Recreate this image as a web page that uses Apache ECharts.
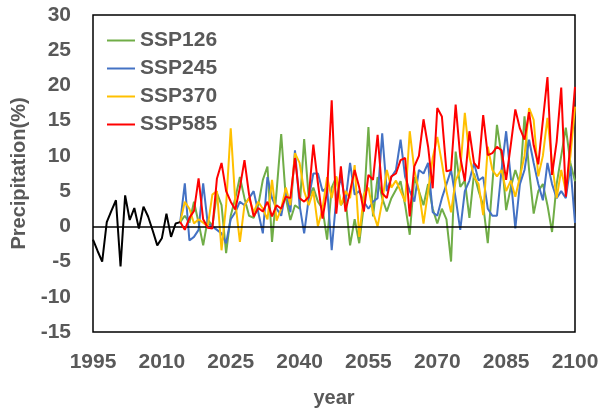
<!DOCTYPE html>
<html>
<head>
<meta charset="utf-8">
<script src="https://cdn.jsdelivr.net/npm/echarts@6/dist/echarts.min.js"></script>
<style>html,body{margin:0;padding:0;background:#fff}#c{width:615px;height:413px}</style>
</head>
<body>
<div id="c"></div>
<script>
var histStart = 1995;
var sspStart = 2014;
var hist = [-1.9,-3.5,-5.0,0.6,2.2,3.7,-5.7,4.4,0.9,2.6,-0.3,2.8,1.4,-0.6,-2.7,-1.7,1.8,-1.5,0.4,0.6];
var ssp126 = [
0.6,1.5,0.5,3.5,0.5,-2.7,1.0,0.0,4.7,3.0,
-3.8,1.5,4.0,7.0,4.0,1.5,1.2,3.0,6.6,8.5,
-2.2,5.0,13.1,4.0,0.9,3.0,2.5,12.4,4.0,5.5,
3.5,2.5,-1.9,5.5,7.0,3.0,4.0,-2.7,1.0,-2.4,
3.0,14.1,1.4,7.0,4.0,2.1,4.0,5.2,6.4,3.0,
-1.2,7.0,5.0,3.0,6.0,2.5,0.4,2.5,1.0,-5.0,
10.6,5.6,6.5,1.2,7.5,5.0,3.0,-2.4,6.0,14.4,
10.0,2.3,5.5,8.0,6.0,15.6,8.0,1.8,5.0,6.0,
3.0,-0.8,6.0,10.0,14.0,9.0,6.4];
var ssp245 = [
0.6,6.1,-2.0,-1.5,-0.5,6.1,0.4,0.0,-0.5,-1.0,
-2.4,1.0,2.0,3.5,3.0,4.0,5.0,2.0,-1.0,7.0,
4.0,2.5,1.5,5.0,2.0,10.8,3.0,-1.0,4.0,7.5,
7.5,5.0,5.5,-3.4,4.0,7.0,3.5,9.0,4.5,5.0,
3.5,2.5,3.5,4.0,13.2,5.0,7.0,8.0,12.3,7.0,
5.0,3.5,8.0,7.5,9.0,2.0,1.5,4.0,6.0,8.0,
4.0,-0.5,5.0,6.5,9.0,6.5,7.0,2.5,1.5,1.5,
8.0,13.5,7.0,-0.3,6.0,8.0,12.3,9.0,6.0,3.7,
9.0,6.0,4.0,5.0,4.0,8.5,0.5];
var ssp370 = [
0.6,3.5,2.5,0.4,1.0,0.5,0.0,4.5,5.0,-3.4,
3.0,13.9,3.5,-2.2,3.0,4.0,2.0,3.5,2.5,1.0,
6.6,0.8,2.5,5.5,3.0,10.4,9.0,5.0,3.0,5.0,
0.0,2.5,7.0,4.0,7.1,3.0,5.0,4.0,8.7,-1.5,
4.5,5.5,2.0,0.0,3.5,8.0,5.5,6.5,5.0,3.5,
13.5,8.0,5.0,0.4,5.0,9.7,12.7,9.0,5.0,2.0,
6.5,8.0,16.1,9.9,7.0,6.0,1.6,11.3,8.0,7.1,
8.0,5.0,6.5,4.2,7.0,10.0,16.8,15.1,7.1,10.0,
15.4,9.0,4.0,8.0,5.0,10.0,17.0];
var ssp585 = [
0.6,-0.5,1.2,2.2,6.8,1.0,-0.2,-0.3,6.8,9.0,
5.0,3.5,2.4,5.5,9.4,4.5,1.4,2.6,2.1,3.5,
1.4,3.0,2.5,4.2,4.0,9.7,4.0,3.5,4.2,11.6,
6.1,1.1,5.0,17.9,1.8,8.5,2.1,5.0,8.0,5.5,
2.1,7.3,6.6,13.0,4.7,4.0,7.1,7.5,9.4,9.7,
1.4,8.5,10.0,15.2,11.3,5.4,16.8,15.6,7.8,8.0,
17.3,9.9,6.4,13.5,9.0,8.2,15.8,10.1,10.4,11.3,
10.8,6.6,11.5,16.6,13.9,12.3,16.2,11.5,8.8,15.0,
21.2,7.3,12.0,19.7,4.2,12.0,19.8];
var seriesNames = ['SSP126','SSP245','SSP370','SSP585'];
var seriesValues = [ssp126, ssp245, ssp370, ssp585];
var seriesColors = ['#70AD47','#4472C4','#FFC000','#FF0000'];
var xTicks = {min: 1995, max: 2100, interval: 15};
var yTicks = {min: -15, max: 30, interval: 5};

function pairs(start, vals){ return vals.map(function(v,i){ return [start+i, v]; }); }

var txt = {color:'#595959', fontWeight:'bold', fontFamily:'Liberation Sans, Arial, sans-serif'};
var series = [{
  name:'hist', type:'line', data: pairs(histStart, hist), symbol:'none',
  lineStyle:{color:'#000', width:2}, itemStyle:{color:'#000'}, z:5,
  markLine:{silent:true, symbol:['none','none'], label:{show:false},
    lineStyle:{color:'#000', width:1.5, type:'solid'}, data:[{yAxis:0}]}
}];
seriesNames.forEach(function(n,i){
  series.push({name:n, type:'line', data: pairs(sspStart, seriesValues[i]), symbol:'none',
    lineStyle:{color:seriesColors[i], width:2}, itemStyle:{color:seriesColors[i]}, z: 2+i});
});
var chart = echarts.init(document.getElementById('c'), null, {renderer:'canvas'});
chart.setOption({
  animation:false,
  backgroundColor:'#fff',
  grid:{left:93, right:40, top:15, bottom:81, show:true, borderColor:'#000', borderWidth:1.5, backgroundColor:'transparent'},
  legend:{data:seriesNames, orient:'vertical', left:102, top:25, itemGap:7, itemWidth:28, itemHeight:20,
    textStyle:Object.assign({fontSize:21}, txt), icon:'path://M0,9 L28,9 L28,11 L0,11 Z'},
  xAxis:{type:'value', min:xTicks.min, max:xTicks.max, interval:xTicks.interval,
    name:'year', nameLocation:'middle', nameGap:56, nameTextStyle:Object.assign({fontSize:20}, txt),
    axisLine:{show:false}, axisTick:{show:false}, splitLine:{show:false},
    axisLabel:Object.assign({fontSize:21, margin:20, formatter:function(v){return String(v);}}, txt)},
  yAxis:{type:'value', min:yTicks.min, max:yTicks.max, interval:yTicks.interval,
    name:'Precipitation(%)', nameLocation:'middle', nameGap:60, nameRotate:90,
    nameTextStyle:Object.assign({fontSize:20}, txt),
    axisLine:{show:false}, axisTick:{show:false}, splitLine:{show:false},
    axisLabel:Object.assign({fontSize:21, margin:22}, txt)},
  series: series
});
</script>
</body>
</html>
